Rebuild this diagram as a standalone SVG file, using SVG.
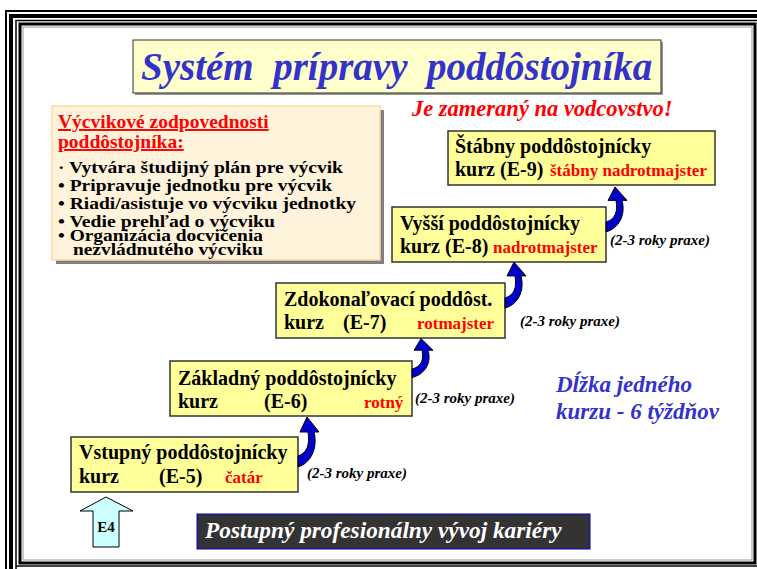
<svg xmlns="http://www.w3.org/2000/svg" width="757" height="569" viewBox="0 0 757 569" font-family="'Liberation Serif', 'Times New Roman', serif">
<style>
.frame{fill:none;stroke:#000}
.box{fill:#FFFF99;stroke:#333;stroke-width:1.5}
text{font-family:'Liberation Serif','Times New Roman',serif;font-weight:bold}
.bk{font-size:20px;fill:#000}
.rd{font-size:17px;fill:#FF0000}
.pr{font-size:15px;font-style:italic;fill:#000}
.it{font-style:italic}
.arr{fill:#0000CC;stroke:#000;stroke-width:1}
</style>
<defs>
<path id="curl" d="M0,0 C9,-3 12,-11 10,-24 L2,-24 L9,-39 L21,-24 L16,-24 C20,-8 13,7 0,11 Z"/>
</defs>
<rect width="757" height="569" fill="#fff"/>
<g id="frame">
<path class="frame" d="M6,569 V11 H757" stroke-width="2"/>
<path class="frame" d="M11,569 V16 H757" stroke-width="4"/>
<path class="frame" d="M16,569 V20.5 H757" stroke-width="1.5"/>
<rect class="frame" x="20" y="24" width="735" height="539" stroke-width="3"/>
<rect x="23" y="27" width="729" height="533" fill="none" stroke="#999" stroke-width="1"/>
<path class="frame" d="M16,566 H757" stroke-width="1.5"/>
</g>
<g id="title">
<rect x="135" y="42" width="528" height="53" fill="#999"/>
<rect x="133" y="40" width="528" height="53" fill="#FFFFCC" stroke="#333" stroke-width="1"/>
<text class="it" x="141" y="80" font-size="39" fill="#3333CC" xml:space="preserve">Systém  prípravy  poddôstojníka</text>
</g>
<g id="subtitle">
<text class="it" x="412" y="116" font-size="22.5" fill="#FF0000">Je zameraný na vodcovstvo!</text>
</g>
<g id="responsibilities">
<rect x="56" y="110" width="328" height="154" fill="#808080"/>
<rect x="52" y="106" width="328" height="154" fill="#FFF3DC" stroke="#FFD9A0" stroke-width="1.5"/>
<text x="58" y="128" font-size="19.5" fill="#FF0000" text-decoration="underline">Výcvikové zodpovednosti</text>
<text x="58" y="148" font-size="19.5" fill="#FF0000" text-decoration="underline">poddôstojníka:</text>
<g font-size="17.5" fill="#000">
<text x="58" y="173" textLength="285" lengthAdjust="spacingAndGlyphs">· Vytvára študijný plán pre výcvik</text>
<text x="58" y="191" textLength="274" lengthAdjust="spacingAndGlyphs">• Pripravuje jednotku pre výcvik</text>
<text x="58" y="209" textLength="298" lengthAdjust="spacingAndGlyphs">• Riadi/asistuje vo výcviku jednotky</text>
<text x="58" y="227" textLength="217" lengthAdjust="spacingAndGlyphs">• Vedie prehľad o výcviku</text>
<text x="58" y="241" textLength="205" lengthAdjust="spacingAndGlyphs">• Organizácia docvičenia</text>
<text x="73" y="255" textLength="190" lengthAdjust="spacingAndGlyphs">nezvládnutého výcviku</text>
</g>
</g>
<g id="e9">
<rect class="box" x="448" y="131" width="267" height="54"/>
<text class="bk" x="455" y="153">Štábny poddôstojnícky</text>
<text class="bk" x="455" y="176">kurz (E-9)</text>
<text class="rd" x="550" y="176">štábny nadrotmajster</text>
</g>
<g id="e8">
<rect class="box" x="392" y="207" width="214" height="55"/>
<text class="bk" x="400" y="230">Vyšší poddôstojnícky</text>
<text class="bk" x="400" y="253">kurz (E-8)</text>
<text class="rd" x="493" y="253">nadrotmajster</text>
</g>
<g id="e7">
<rect class="box" x="276" y="283" width="229" height="55"/>
<text class="bk" x="284" y="306">Zdokonaľovací poddôst.</text>
<text class="bk" x="284" y="329">kurz</text>
<text class="bk" x="343" y="329">(E-7)</text>
<text class="rd" x="417" y="329">rotmajster</text>
</g>
<g id="e6">
<rect class="box" x="170" y="361" width="242" height="55"/>
<text class="bk" x="178" y="385">Základný poddôstojnícky</text>
<text class="bk" x="178" y="408">kurz</text>
<text class="bk" x="264" y="408">(E-6)</text>
<text class="rd" x="364" y="408">rotný</text>
</g>
<g id="e5">
<rect class="box" x="71" y="437" width="227" height="55"/>
<text class="bk" x="79" y="459">Vstupný poddôstojnícky</text>
<text class="bk" x="79" y="483">kurz</text>
<text class="bk" x="159" y="483">(E-5)</text>
<text class="rd" x="225" y="483">čatár</text>
</g>
<g id="e4">
<path d="M106,497 L133,511 L119,511 L119,547 L93,547 L93,511 L80,511 Z" fill="#CCFFFF" stroke="#000" stroke-width="1"/>
<text x="106" y="532" font-size="15" text-anchor="middle">E4</text>
</g>
<g id="connectors">
<use href="#curl" class="arr" transform="translate(298,456)"/>
<use href="#curl" class="arr" transform="translate(412,369) scale(1,0.78)"/>
<use href="#curl" class="arr" transform="translate(505,298) scale(1,0.92)"/>
<use href="#curl" class="arr" transform="translate(606,222) scale(1,0.9)"/>
</g>
<g id="praxe">
<text class="pr" x="307" y="478">(2-3 roky praxe)</text>
<text class="pr" x="415" y="403">(2-3 roky praxe)</text>
<text class="pr" x="520" y="326">(2-3 roky praxe)</text>
<text class="pr" x="610" y="245">(2-3 roky praxe)</text>
</g>
<g id="duration">
<text class="it" x="556" y="392" font-size="23" fill="#3333CC">Dĺžka jedného</text>
<text class="it" x="556" y="419" font-size="23" fill="#3333CC">kurzu - 6 týždňov</text>
</g>
<g id="banner">
<rect x="197" y="514" width="393" height="35" fill="#333333" stroke="#0000CC" stroke-width="1"/>
<text class="it" x="205" y="538" font-size="23.3" fill="#fff">Postupný profesionálny vývoj kariéry</text>
</g>
</svg>
